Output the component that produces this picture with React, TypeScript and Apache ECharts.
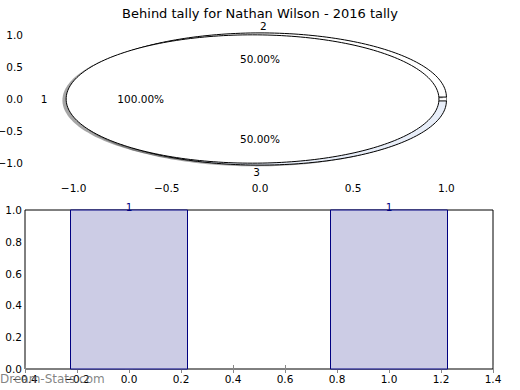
import React, { useEffect, useRef } from "react";
import * as echarts from "echarts";

const chartTitle = "Behind tally for Nathan Wilson - 2016 tally";
const outerLabels = ["1"];
const outerValues = [1];
const splitLabels = ["2", "3"];
const splitValues = [1, 1];
const pieTicks = [-1, -0.5, 0, 0.5, 1];
const barPositions = [0, 1];
const barValues = [1, 1];
const barLabels = ["1", "1"];
const watermark = "Dream-Stats.com";

const FONT = "DejaVu Sans";
const fmt = (v: number) => {
  const s = (Math.round(v * 10) / 10).toFixed(1);
  return s.replace("-", "\u2212");
};

type Slice = { label: string; pct: string; t1: number; t2: number; explode: number; fill: string };

function buildSlices(labels: string[], values: number[], explode: number[], fills: string[]): Slice[] {
  const total = values.reduce((a, b) => a + b, 0);
  let cum = 0;
  return values.map((v, i) => {
    const s = {
      label: labels[i],
      pct: ((v / total) * 100).toFixed(2) + "%",
      t1: cum / total,
      t2: (cum + v) / total,
      explode: explode[i],
      fill: fills[i],
    };
    cum += v;
    return s;
  });
}

const slices: Slice[] = [
  ...buildSlices(splitLabels, splitValues, [0.03, 0.03], ["#ffffff", "#e8eef9"]),
  ...buildSlices(outerLabels, outerValues, [0.04], ["#ffffff"]),
];

function wedgePoints(s: Slice, api: any, ox: number, oy: number) {
  const mid = Math.PI * (s.t1 + s.t2);
  const cx = s.explode * Math.cos(mid) + ox;
  const cy = s.explode * Math.sin(mid) + oy;
  const full = s.t2 - s.t1 >= 1 - 1e-9;
  const n = Math.max(8, Math.ceil((s.t2 - s.t1) * 240));
  const pts: number[][] = [];
  if (!full) pts.push(api.coord([cx, cy]));
  for (let k = 0; k <= n; k++) {
    const a = 2 * Math.PI * (s.t1 + ((s.t2 - s.t1) * k) / n);
    pts.push(api.coord([cx + Math.cos(a), cy + Math.sin(a)]));
  }
  return pts;
}

export default function App() {
  const ref = useRef<HTMLDivElement>(null);
  useEffect(() => {
    if (!ref.current) return;
    const chart = echarts.init(ref.current, null, { renderer: "svg" });
    const tickStyle = { inside: true, length: 4, lineStyle: { color: "#888", width: 1 } };
    const labelStyle = { fontFamily: FONT, fontSize: 10.5, color: "#000" };
    const sliceData = slices.map((_, i) => [i, 0]);

    const option: any = {
      animation: false,
      backgroundColor: "#fff",
      title: {
        text: chartTitle,
        left: "center",
        top: 2,
        textStyle: { fontFamily: FONT, fontSize: 13, fontWeight: "normal", color: "#000" },
      },
      graphic: [
        {
          type: "text",
          left: 0,
          top: 373,
          z: 100,
          style: { text: watermark, fontFamily: FONT, fontSize: 12, fill: "rgba(110,110,110,0.85)" },
        },
      ],
      grid: [
        { left: 27, right: 27, top: 22, height: 154, show: false, containLabel: false, outerBoundsMode: "none" },
        {
          left: 25, right: 27, top: 210, height: 159, show: true, borderColor: "#000", borderWidth: 1,
          backgroundColor: "transparent", containLabel: false, outerBoundsMode: "none",
        },
      ],
      xAxis: [
        {
          gridIndex: 0, type: "value", min: -1.25, max: 1.25,
          axisLine: { show: false }, splitLine: { show: false },
          axisTick: { ...tickStyle, customValues: pieTicks },
          axisLabel: { ...labelStyle, margin: 6, customValues: pieTicks, formatter: fmt },
        },
        {
          gridIndex: 0, type: "value", min: -1.25, max: 1.25, position: "top",
          axisLine: { show: false }, splitLine: { show: false },
          axisTick: { ...tickStyle, customValues: pieTicks },
          axisLabel: { show: false },
        },
        {
          gridIndex: 1, type: "value", min: -0.4, max: 1.4, interval: 0.2,
          axisLine: { show: false }, splitLine: { show: false },
          axisTick: tickStyle,
          axisLabel: { ...labelStyle, margin: 4, formatter: fmt, showMinLabel: true, showMaxLabel: true },
        },
        {
          gridIndex: 1, type: "value", min: -0.4, max: 1.4, interval: 0.2, position: "top",
          axisLine: { show: false }, splitLine: { show: false },
          axisTick: tickStyle, axisLabel: { show: false },
        },
      ],
      yAxis: [
        {
          gridIndex: 0, type: "value", min: -1.2, max: 1.2,
          axisLine: { show: false }, splitLine: { show: false },
          axisTick: { ...tickStyle, customValues: pieTicks },
          axisLabel: { ...labelStyle, margin: 4, customValues: pieTicks, formatter: fmt },
        },
        {
          gridIndex: 0, type: "value", min: -1.2, max: 1.2, position: "right",
          axisLine: { show: false }, splitLine: { show: false },
          axisTick: { ...tickStyle, customValues: pieTicks },
          axisLabel: { show: false },
        },
        {
          gridIndex: 1, type: "value", min: 0, max: 1, interval: 0.2,
          axisLine: { show: false }, splitLine: { show: false },
          axisTick: tickStyle,
          axisLabel: { ...labelStyle, margin: 3, formatter: fmt },
        },
        {
          gridIndex: 1, type: "value", min: 0, max: 1, interval: 0.2, position: "right",
          axisLine: { show: false }, splitLine: { show: false },
          axisTick: tickStyle, axisLabel: { show: false },
        },
      ],
      series: [
        {
          type: "custom", xAxisIndex: 0, yAxisIndex: 0, z: 2, clip: false,
          data: sliceData,
          renderItem: (params: any, api: any) => {
            const s = slices[api.value(0)];
            return {
              type: "polygon",
              shape: { points: wedgePoints(s, api, -0.02, -0.02) },
              style: { fill: "rgba(77,77,77,0.5)", stroke: "none" },
            };
          },
        },
        {
          type: "custom", xAxisIndex: 0, yAxisIndex: 0, z: 3, clip: false,
          data: sliceData,
          renderItem: (params: any, api: any) => {
            const s = slices[api.value(0)];
            return {
              type: "polygon",
              shape: { points: wedgePoints(s, api, 0, 0) },
              style: { fill: s.fill, stroke: "#000", lineWidth: 1 },
            };
          },
        },
        {
          type: "custom", xAxisIndex: 0, yAxisIndex: 0, z: 4, clip: false,
          data: sliceData,
          renderItem: (params: any, api: any) => {
            const s = slices[api.value(0)];
            const mid = Math.PI * (s.t1 + s.t2);
            const cx = s.explode * Math.cos(mid);
            const cy = s.explode * Math.sin(mid);
            const lp = api.coord([cx + 1.1 * Math.cos(mid), cy + 1.1 * Math.sin(mid)]);
            const pp = api.coord([cx + 0.6 * Math.cos(mid), cy + 0.6 * Math.sin(mid)]);
            return {
              type: "group",
              children: [
                {
                  type: "text", x: lp[0], y: lp[1],
                  style: {
                    text: s.label, fontFamily: FONT, fontSize: 10.5, fill: "#000",
                    textAlign: Math.cos(mid) > 0 ? "left" : "right", textVerticalAlign: "middle",
                  },
                },
                {
                  type: "text", x: pp[0], y: pp[1],
                  style: {
                    text: s.pct, fontFamily: FONT, fontSize: 10.5, fill: "#000",
                    textAlign: "center", textVerticalAlign: "middle",
                  },
                },
              ],
            };
          },
        },
        {
          type: "custom", xAxisIndex: 2, yAxisIndex: 2, z: 3, clip: false,
          data: barPositions.map((x, i) => [x, barValues[i], i]),
          renderItem: (params: any, api: any) => {
            const x = api.value(0);
            const v = api.value(1);
            const i = api.value(2);
            const w = 0.45;
            const p1 = api.coord([x - w / 2, v]);
            const p2 = api.coord([x + w / 2, 0]);
            const top = api.coord([x, v]);
            return {
              type: "group",
              children: [
                {
                  type: "rect",
                  shape: { x: p1[0], y: p1[1], width: p2[0] - p1[0], height: p2[1] - p1[1] },
                  style: { fill: "#ccccE5", stroke: "#000080", lineWidth: 1 },
                },
                {
                  type: "text", x: top[0], y: top[1] + 2,
                  style: {
                    text: barLabels[i], fontFamily: FONT, fontSize: 10.5, fill: "#000080",
                    textAlign: "center", textVerticalAlign: "bottom",
                  },
                },
              ],
            };
          },
        },
      ],
    };
    chart.setOption(option);
    return () => chart.dispose();
  }, []);
  return <div ref={ref} style={{ position: "absolute", left: 0, top: 0, width: 520, height: 390 }} />;
}
